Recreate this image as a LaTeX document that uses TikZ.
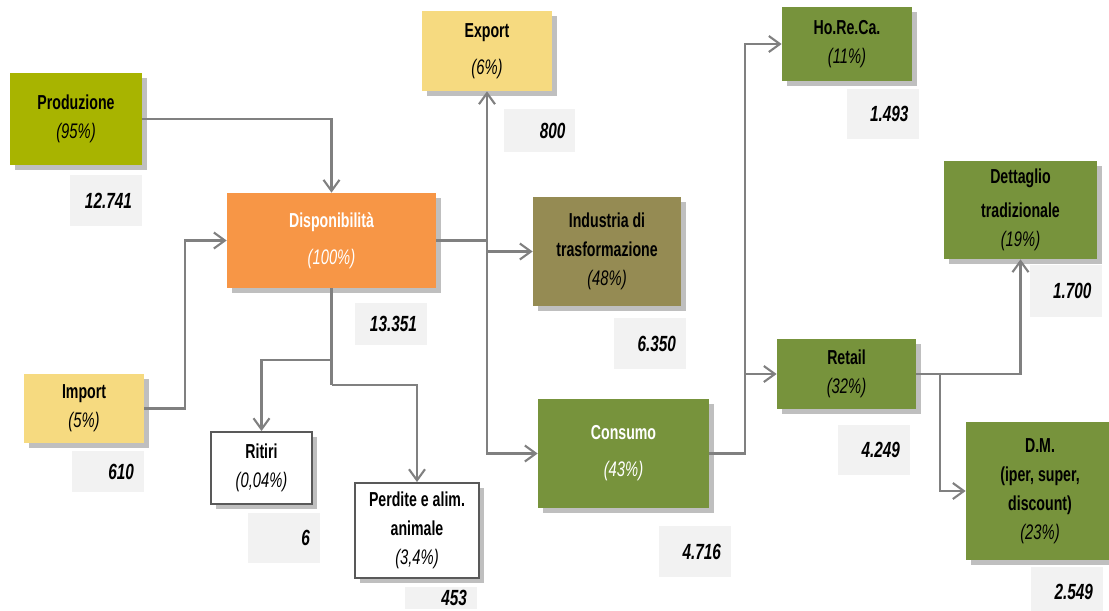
\documentclass[tikz,border=0pt]{standalone}
\usepackage{fontspec}
\setmainfont{Liberation Sans}[FakeStretch=0.70]
\usetikzlibrary{arrows.meta,shadows}

\definecolor{prodgreen}{HTML}{A8B400}
\definecolor{dispor}{HTML}{F79646}
\definecolor{tradey}{HTML}{F6DA80}
\definecolor{indkhaki}{HTML}{958B53}
\definecolor{distgreen}{HTML}{77933C}
\definecolor{valgray}{HTML}{F2F2F2}
\definecolor{linegray}{HTML}{808080}

\newcommand{\perc}[1]{{\mdseries\itshape\fontsize{12}{16.5}\selectfont #1}}

\begin{document}
\begin{tikzpicture}[
                    x = 0.02cm, y = -0.02cm,
                    >={Straight Barb[length=2.2mm,width=3.2mm]},
                    link/.style = {draw = linegray, line width = 1.2pt},
                    boxsize/.style 2 args = {minimum width = #1*0.02cm, minimum height = #2*0.02cm},
                    box/.style = {align = center, inner sep = 1pt,
                                  font = \bfseries\fontsize{11.5}{16.5}\selectfont,
                                  general shadow = {fill = gray!50, shadow xshift = 0.1cm, shadow yshift = -0.1cm}},
                    loss/.style = {box, fill = white, draw = black!65, line width = 1.1pt, general shadow = {}},
                    val/.style = {fill = valgray, align = right, text width = 1.04cm, inner xsep = 0.2cm,
                                  inner ysep = 0pt, minimum height = #1*0.02cm,
                                  font = \bfseries\itshape\fontsize{12.5}{14}\selectfont},
                    val/.default = 50]
    \useasboundingbox (0,0) rectangle (1109,610);

    \node[box, boxsize = {132}{92}, fill = prodgreen]                  (prod) at (76,119)     {Produzione\\\perc{(95\%)}};
    \node[box, boxsize = {120}{69}, fill = tradey]                     (imp)  at (84,408.5)   {Import\\\perc{(5\%)}};
    \node[box, boxsize = {209}{95}, fill = dispor, text = white]       (disp) at (331.5,240.5) {Disponibilità\\[0.16cm]\perc{(100\%)}};
    \node[box, boxsize = {130}{80}, fill = tradey]                     (exp)  at (487,51)     {Export\\[0.16cm]\perc{(6\%)}};
    \node[box, boxsize = {148}{109}, fill = indkhaki]                  (ind)  at (607,251.5)  {Industria di\\trasformazione\\\perc{(48\%)}};
    \node[box, boxsize = {171}{109}, fill = distgreen, text = white]   (cons) at (623.5,453.5) {Consumo\\[0.16cm]\perc{(43\%)}};
    \node[box, boxsize = {130}{74}, fill = distgreen]                  (hor)  at (847,44)     {Ho.Re.Ca.\\\perc{(11\%)}};
    \node[box, boxsize = {139}{70}, fill = distgreen]                  (ret)  at (846.5,374)  {Retail\\\perc{(32\%)}};
    \node[box, boxsize = {153}{98}, fill = distgreen]                  (det)  at (1020.5,210) {Dettaglio\\[0.1cm]tradizionale\\\perc{(19\%)}};
    \node[box, boxsize = {148}{138}, fill = distgreen]                 (dm)   at (1040,491)   {D.M.\\(iper, super,\\discount)\\\perc{(23\%)}};
    \node[loss, boxsize = {101}{72}]                                   (rit)  at (261.5,468)  {Ritiri\\\perc{(0,04\%)}};
    \node[loss, boxsize = {124}{95}]                                   (per)  at (417,530.5)  {Perdite e alim.\\animale\\\perc{(3,4\%)}};

    \node[val = 51] (v12741) at (106,200.5)  {12.741};
    \node[val = 41] (v610)   at (108,471.5)  {610};
    \node[val = 42] (v13351) at (391,324)    {13.351};
    \node[val = 43] (v800)   at (539.5,130.5) {800};
    \node[val = 51] (v6350)  at (650,343.5)  {6.350};
    \node[val = 51] (v4716)  at (695,551.5)  {4.716};
    \node[val]      (v1493)  at (882.5,114)  {1.493};
    \node[val = 52] (v1700)  at (1065.5,291) {1.700};
    \node[val]      (v4249)  at (874,450)    {4.249};
    \node[val = 50] (v2549)  at (1067,592)   {2.549};
    \node[val]      (v6)     at (284,538)    {6};
    \node[val = 22] (v453)   at (441,598)    {453};

    \coordinate (jimp)  at (185,240.5);
    \coordinate (jrit)  at (331.5,360);
    \coordinate (jper)  at (331.5,385);
    \coordinate (jexp)  at (487,240.5);
    \coordinate (jcons) at (745,453.5);
    \coordinate (jret)  at (940,374);

    \draw[link, ->] (prod.east) -| (disp.north);
    \draw[link, ->] (imp.east) -| (jimp) -- (disp.west);
    \draw[link]     (disp.south) -- (jper);
    \draw[link, ->] (jrit) -| (rit.north);
    \draw[link, ->] (jper) -| (per.north);
    \draw[link]     (disp.east) -- (jexp);
    \draw[link, ->] (jexp) -- (exp.south);
    \draw[link, ->] (jexp |- ind.west) -- (ind.west);
    \draw[link, ->] (jexp) |- (cons.west);
    \draw[link, ->] (cons.east) -- (jcons) |- (hor.west);
    \draw[link, ->] (jcons |- ret.west) -- (ret.west);
    \draw[link, ->] (ret.east) -| (det.south);
    \draw[link, ->] (jret) |- (dm.west);
\end{tikzpicture}
\end{document}
